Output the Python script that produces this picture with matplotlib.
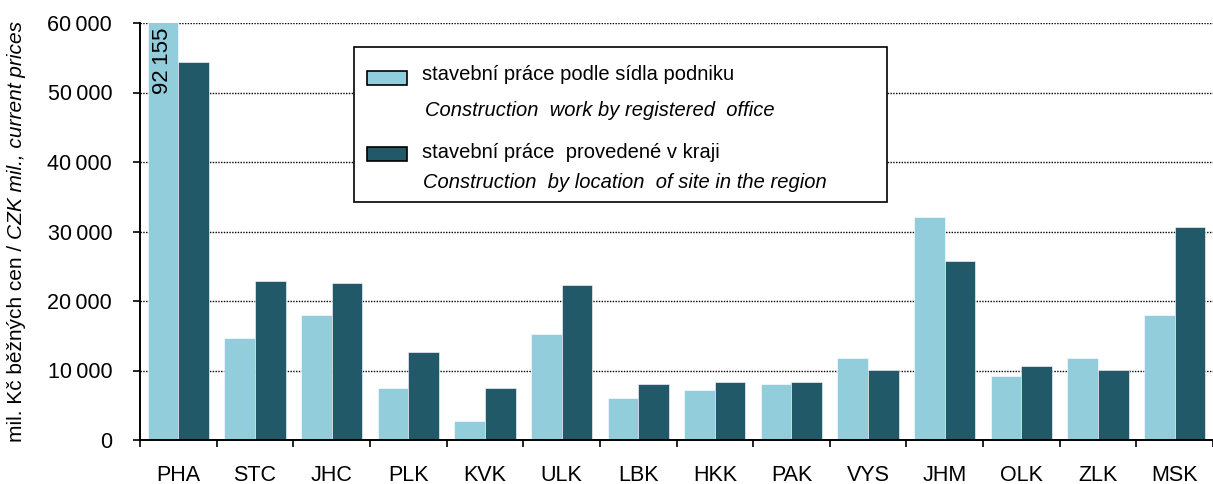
import matplotlib
matplotlib.use("Agg")
import matplotlib.pyplot as plt
import numpy as np
from matplotlib.patches import Rectangle
from matplotlib.ticker import FuncFormatter

plt.rcParams['font.family'] = ['Liberation Sans', 'DejaVu Sans']

regions = ["PHA", "STC", "JHC", "PLK", "KVK", "ULK", "LBK",
           "HKK", "PAK", "VYS", "JHM", "OLK", "ZLK", "MSK"]
by_office = [92155, 14700, 18000, 7500, 2700, 15250, 6050,
             7200, 8100, 11800, 32100, 9250, 11800, 18000]
by_site = [54400, 22900, 22600, 12650, 7500, 22300, 8050,
           8350, 8350, 10100, 25750, 10700, 10100, 30650]
label_office = "stavební práce podle sídla podniku"
label_office_en = "Construction  work by registered  office"
label_site = "stavební práce  provedené v kraji"
label_site_en = "Construction  by location  of site in the region"

c_light = "#92CDDC"
c_dark = "#215968"

W, H = 1213, 484
fig = plt.figure(figsize=(W / 100, H / 100), dpi=100)
ax = fig.add_axes([140 / W, 1 - 440 / H, 1 - 140 / W, (440 - 23) / H])

x = np.arange(len(regions))
bw = 0.4
ax.bar(x - bw / 2, by_office, bw, color=c_light, edgecolor="white", linewidth=0.4, zorder=2)
ax.bar(x + bw / 2, by_site, bw, color=c_dark, edgecolor="white", linewidth=0.4, zorder=2)

ax.set_xlim(-0.5, len(regions) - 0.55)
ax.set_ylim(0, 60000)
ax.set_yticks(np.arange(0, 60001, 10000))
ax.yaxis.set_major_formatter(FuncFormatter(lambda v, p: f"{int(v):,}".replace(",", "\u2009")))
for yv in np.arange(10000, 60001, 10000):
    ax.axhline(yv, color="black", linestyle=(0, (1, 1)), linewidth=1, zorder=1)

# ticks between groups, labels at group centres
ax.set_xticks(np.arange(-0.5, len(regions), 1))
ax.set_xticklabels([])
ax.set_xticks(x, minor=True)
ax.set_xticklabels(regions, minor=True)
ax.tick_params(axis="x", which="major", direction="out", length=5, width=1.2)
ax.tick_params(axis="x", which="minor", length=0, pad=18, labelsize=15.5)
ax.tick_params(axis="y", direction="out", length=5, width=1.2, pad=15, labelsize=15.5)

for s in ["top", "right"]:
    ax.spines[s].set_visible(False)
for s in ["left", "bottom"]:
    ax.spines[s].set_linewidth(1.4)

# clipped value for Prague
ax.text(0 - bw / 2, 59300, f"{by_office[0]:,}".replace(",", "\u2009"), rotation=90,
        ha="center", va="top", fontsize=16, zorder=3)

# y label: normal + italic part
t1 = fig.text(17 / W, 0.5, "mil. Kč běžných cen / ", rotation=90, fontsize=15,
              ha="center", va="center")
t2 = fig.text(17 / W, 0, "CZK mil., current prices", rotation=90, fontsize=15,
              style="italic", ha="center", va="bottom")
fig.canvas.draw()
bb = t1.get_window_extent()
bb2 = t2.get_window_extent()
total = bb.height + bb2.height
y0 = (H - (23 + 440) / 2) - total / 2
t1.set_va("bottom")
t1.set_y(y0 / H)
t2.set_y((y0 + bb.height) / H)

# legend box drawn in figure pixels
def fp(px, py):
    return px / W, 1 - py / H

lx, ly = fp(354, 202)
fig.add_artist(Rectangle((lx, ly), (887 - 354) / W, (202 - 47) / H, transform=fig.transFigure,
                         facecolor="white", edgecolor="black", linewidth=1.2, zorder=5))
for py, col in [(85, c_light), (161, c_dark)]:
    px0, py0 = fp(367, py)
    fig.add_artist(Rectangle((px0, py0), 40 / W, 14 / H, transform=fig.transFigure,
                             facecolor=col, edgecolor="black", linewidth=1.2, zorder=6))
for (px, py), txt, st in [((422, 75), label_office, "normal"),
                          ((425, 111), label_office_en, "italic"),
                          ((422, 152), label_site, "normal"),
                          ((423, 182), label_site_en, "italic")]:
    fx, fy = fp(px, py)
    fig.text(fx, fy, txt, fontsize=14.5, style=st, ha="left", va="center", zorder=6)

fig.savefig("out.png", dpi=100)
